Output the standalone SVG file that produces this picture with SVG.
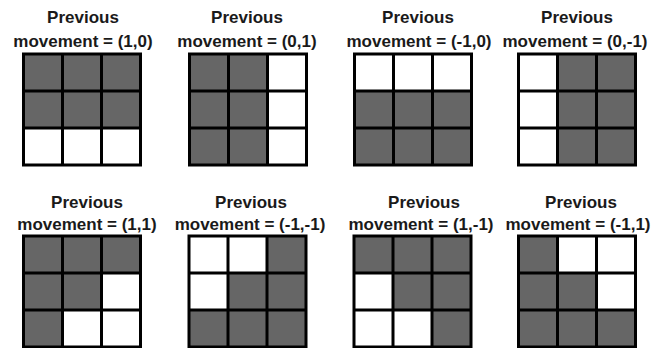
<svg xmlns="http://www.w3.org/2000/svg" xmlns:xlink="http://www.w3.org/1999/xlink" width="670" height="348" viewBox="0 0 670 348">
  <style>
    .t { font-family: "Liberation Sans", Arial, sans-serif; font-weight: bold; font-size: 17px; fill: #1a1a1a; text-anchor: middle; }
    .g { fill: #666666; }
    .w { fill: #ffffff; }
    .ln { fill: none; stroke: #000000; stroke-width: 3; }
  </style>
  <defs>
    <path id="lines" class="ln" d="M0,0 H117 V111 H0 Z M39,0 V111 M78,0 V111 M0,37 H117 M0,74 H117"/>
    <rect id="c" class="g" width="39" height="37"/>
  </defs>
  <rect width="670" height="348" fill="#ffffff"/>

  <g id="node-1-0">
    <text class="t" x="83" y="23">Previous</text>
    <text class="t" x="83" y="46.5">movement = (1,0)</text>
    <g transform="translate(23.5,54)">
      <use xlink:href="#c" x="0" y="0"/><use xlink:href="#c" x="39" y="0"/><use xlink:href="#c" x="78" y="0"/>
      <use xlink:href="#c" x="0" y="37"/><use xlink:href="#c" x="39" y="37"/><use xlink:href="#c" x="78" y="37"/>
      <use xlink:href="#lines"/>
    </g>
  </g>

  <g id="node-0-1">
    <text class="t" x="247" y="23">Previous</text>
    <text class="t" x="247" y="46.5">movement = (0,1)</text>
    <g transform="translate(189.5,54)">
      <use xlink:href="#c" x="0" y="0"/><use xlink:href="#c" x="39" y="0"/>
      <use xlink:href="#c" x="0" y="37"/><use xlink:href="#c" x="39" y="37"/>
      <use xlink:href="#c" x="0" y="74"/><use xlink:href="#c" x="39" y="74"/>
      <use xlink:href="#lines"/>
    </g>
  </g>

  <g id="node-m1-0">
    <text class="t" x="418" y="23">Previous</text>
    <text class="t" x="419" y="46.5">movement = (-1,0)</text>
    <g transform="translate(354.5,54)">
      <use xlink:href="#c" x="0" y="37"/><use xlink:href="#c" x="39" y="37"/><use xlink:href="#c" x="78" y="37"/>
      <use xlink:href="#c" x="0" y="74"/><use xlink:href="#c" x="39" y="74"/><use xlink:href="#c" x="78" y="74"/>
      <use xlink:href="#lines"/>
    </g>
  </g>

  <g id="node-0-m1">
    <text class="t" x="577" y="23">Previous</text>
    <text class="t" x="575" y="46.5">movement = (0,-1)</text>
    <g transform="translate(518.5,54)">
      <use xlink:href="#c" x="39" y="0"/><use xlink:href="#c" x="78" y="0"/>
      <use xlink:href="#c" x="39" y="37"/><use xlink:href="#c" x="78" y="37"/>
      <use xlink:href="#c" x="39" y="74"/><use xlink:href="#c" x="78" y="74"/>
      <use xlink:href="#lines"/>
    </g>
  </g>

  <g id="node-1-1">
    <text class="t" x="87" y="207.5">Previous</text>
    <text class="t" x="87" y="230">movement = (1,1)</text>
    <g transform="translate(23.5,236)">
      <use xlink:href="#c" x="0" y="0"/><use xlink:href="#c" x="39" y="0"/><use xlink:href="#c" x="78" y="0"/>
      <use xlink:href="#c" x="0" y="37"/><use xlink:href="#c" x="39" y="37"/>
      <use xlink:href="#c" x="0" y="74"/>
      <use xlink:href="#lines"/>
    </g>
  </g>

  <g id="node-m1-m1">
    <text class="t" x="251" y="207.5">Previous</text>
    <text class="t" x="250" y="230">movement = (-1,-1)</text>
    <g transform="translate(189,236)">
      <use xlink:href="#c" x="78" y="0"/>
      <use xlink:href="#c" x="39" y="37"/><use xlink:href="#c" x="78" y="37"/>
      <use xlink:href="#c" x="0" y="74"/><use xlink:href="#c" x="39" y="74"/><use xlink:href="#c" x="78" y="74"/>
      <use xlink:href="#lines"/>
    </g>
  </g>

  <g id="node-1-m1">
    <text class="t" x="424" y="207.5">Previous</text>
    <text class="t" x="421" y="230">movement = (1,-1)</text>
    <g transform="translate(354,236)">
      <use xlink:href="#c" x="0" y="0"/><use xlink:href="#c" x="39" y="0"/><use xlink:href="#c" x="78" y="0"/>
      <use xlink:href="#c" x="39" y="37"/><use xlink:href="#c" x="78" y="37"/>
      <use xlink:href="#c" x="78" y="74"/>
      <use xlink:href="#lines"/>
    </g>
  </g>

  <g id="node-m1-1">
    <text class="t" x="581" y="207.5">Previous</text>
    <text class="t" x="578" y="230">movement = (-1,1)</text>
    <g transform="translate(518.5,236)">
      <use xlink:href="#c" x="0" y="0"/>
      <use xlink:href="#c" x="0" y="37"/><use xlink:href="#c" x="39" y="37"/>
      <use xlink:href="#c" x="0" y="74"/><use xlink:href="#c" x="39" y="74"/><use xlink:href="#c" x="78" y="74"/>
      <use xlink:href="#lines"/>
    </g>
  </g>
</svg>
